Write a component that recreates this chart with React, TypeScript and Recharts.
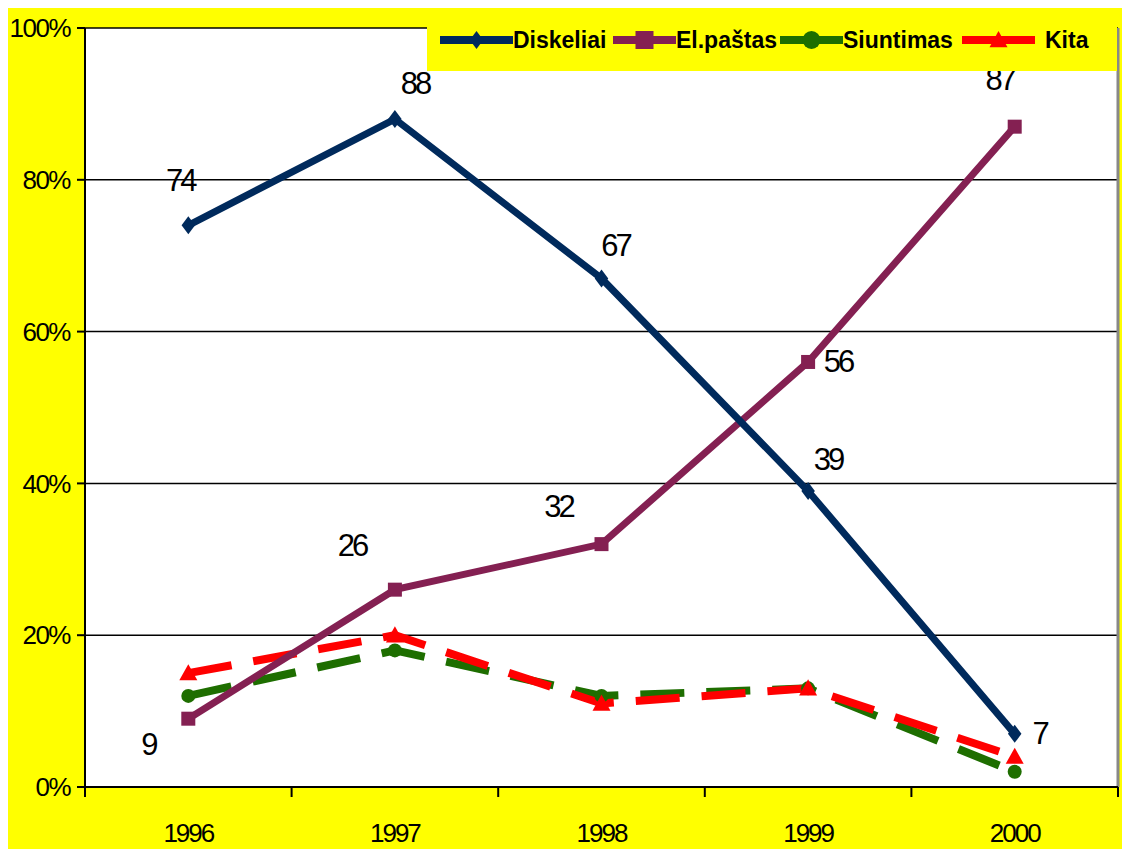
import React from "react";
import { LineChart, Line, XAxis, YAxis, CartesianGrid, ReferenceLine, LabelList } from "recharts";

const years = ["1996", "1997", "1998", "1999", "2000"];
const diskeliai = [74, 88, 67, 39, 7];
const elPastas = [9, 26, 32, 56, 87];
const siuntimas = [12, 18, 12, 13, 2];
const kita = [15, 20, 11, 13, 4];
const yTicks = [0, 20, 40, 60, 80, 100];

const data = years.map((y, i) => ({
  i,
  year: y,
  d: diskeliai[i],
  e: elPastas[i],
  s: siuntimas[i],
  k: kita[i],
}));

const NAVY = "#002A5C";
const PURPLE = "#842052";
const GREEN = "#1E6E00";
const RED = "#FF0000";

const FONT = "'Liberation Sans', Arial, sans-serif";

const diskOffsets = [[-8, -45], [20, -36], [14, -33], [20, -31], [25, 0]];
const elOffsets = [[-40, 26], [-43, -44], [-43, -38], [30, 0], [-15, -47]];

const makeLabel = (offs: number[][]) => (props: any) => {
  const x = props.x ?? props.viewBox?.x;
  const y = props.y ?? props.viewBox?.y;
  const idx = props.index ?? 0;
  const o = offs[idx] || [0, 0];
  return (
    <text
      key={`l-${idx}`}
      x={x + o[0]}
      y={y + o[1]}
      textAnchor="middle"
      dominantBaseline="central"
      fontFamily={FONT}
      fontSize={31}
      letterSpacing={-3}
      fill="#000"
    >
      {props.value}
    </text>
  );
};

const Diamond = (p: any) => {
  const { cx, cy, fill, size = 9 } = p;
  return <polygon points={`${cx},${cy - size} ${cx + size * 0.75},${cy} ${cx},${cy + size} ${cx - size * 0.75},${cy}`} fill={fill} />;
};
const Square = (p: any) => {
  const { cx, cy, fill, size = 7 } = p;
  return <rect x={cx - size} y={cy - size} width={size * 2} height={size * 2} fill={fill} />;
};
const Circle = (p: any) => {
  const { cx, cy, fill, size = 7 } = p;
  return <circle cx={cx} cy={cy} r={size} fill={fill} />;
};
const Triangle = (p: any) => {
  const { cx, cy, fill, size = 9 } = p;
  return <polygon points={`${cx},${cy - size} ${cx + size},${cy + size * 0.8} ${cx - size},${cy + size * 0.8}`} fill={fill} />;
};

const dotFn = (Shape: any, fill: string, name: string) => (props: any) => (
  <Shape key={`${name}-${props.index}`} cx={props.cx} cy={props.cy} fill={fill} />
);

const XTick = (props: any) => {
  const { x, y, payload } = props;
  const v = payload.value;
  if (Number.isInteger(v)) {
    return (
      <text x={x} y={y + 46} textAnchor="middle" dominantBaseline="central" fontFamily={FONT} fontSize={26} letterSpacing={-2} fill="#000">
        {years[v]}
      </text>
    );
  }
  return <line x1={x} y1={y} x2={x} y2={y + 10} stroke="#000" strokeWidth={2} />;
};

const legendItems = [
  { name: "Diskeliai", color: NAVY, shape: Diamond, left: 432, lineW: 73, gap: 0 },
  { name: "El.paštas", color: PURPLE, shape: Square, left: 605, lineW: 63, gap: 0 },
  { name: "Siuntimas", color: GREEN, shape: Circle, left: 772, lineW: 63, gap: 0 },
  { name: "Kita", color: RED, shape: Triangle, left: 954, lineW: 73, gap: 10 },
];

const xTickVals = [-0.5, 0, 0.5, 1, 1.5, 2, 2.5, 3, 3.5, 4, 4.5];

export default function App() {
  return (
    <div style={{ position: "absolute", left: 8, top: 8, width: 1114, height: 841, background: "#FFFF00" }}>
      <LineChart width={1114} height={841} data={data} margin={{ top: 20, right: 4, bottom: 12, left: 0 }}>
        <CartesianGrid vertical={false} stroke="#000" strokeWidth={1.5} fill="#FFFFFF" fillOpacity={1} />
        <XAxis
          dataKey="i"
          type="number"
          domain={[-0.5, 4.5]}
          ticks={xTickVals}
          interval={0}
          tick={<XTick />}
          tickLine={false}
          tickSize={0}
          tickMargin={0}
          height={50}
          axisLine={{ stroke: "#000", strokeWidth: 2 }}
        />
        <YAxis
          type="number"
          domain={[0, 100]}
          ticks={yTicks}
          interval={0}
          width={77}
          tickFormatter={(v: number) => `${v}%`}
          tick={{ fontSize: 26, fill: "#000", fontFamily: FONT, letterSpacing: -1.5 } as any}
          tickSize={8}
          tickMargin={7}
          tickLine={{ stroke: "#000", strokeWidth: 2 }}
          axisLine={{ stroke: "#000", strokeWidth: 2 }}
        />
        <ReferenceLine x={4.5} stroke="#888" strokeWidth={3} />
        <Line dataKey="s" name="Siuntimas" stroke={GREEN} strokeWidth={8} strokeDasharray="44 22" dot={dotFn(Circle, GREEN, "s")} activeDot={false} isAnimationActive={false} />
        <Line dataKey="k" name="Kita" stroke={RED} strokeWidth={8} strokeDasharray="44 22" dot={dotFn(Triangle, RED, "k")} activeDot={false} isAnimationActive={false} />
        <Line dataKey="e" name="El.paštas" stroke={PURPLE} strokeWidth={7} dot={dotFn(Square, PURPLE, "e")} activeDot={false} isAnimationActive={false}>
          <LabelList dataKey="e" content={makeLabel(elOffsets)} />
        </Line>
        <Line dataKey="d" name="Diskeliai" stroke={NAVY} strokeWidth={7} dot={dotFn(Diamond, NAVY, "d")} activeDot={false} isAnimationActive={false}>
          <LabelList dataKey="d" content={makeLabel(diskOffsets)} />
        </Line>
      </LineChart>
      <div style={{ position: "absolute", left: 419, top: 1, width: 690, height: 62, background: "#FFFF00" }}>
        {legendItems.map((it) => {
          const S = it.shape;
          return (
            <div key={it.name} style={{ position: "absolute", left: it.left - 419, top: 0, height: 62, display: "flex", alignItems: "center" }}>
              <svg width={it.lineW} height={24} style={{ display: "block" }}>
                <line x1={0} y1={12} x2={it.lineW} y2={12} stroke={it.color} strokeWidth={8} />
                <S cx={it.lineW / 2} cy={12} fill={it.color} size={9} />
              </svg>
              <span style={{ marginLeft: it.gap, fontFamily: FONT, fontWeight: "bold", fontSize: 23, color: "#000", whiteSpace: "nowrap" }}>{it.name}</span>
            </div>
          );
        })}
      </div>
    </div>
  );
}
